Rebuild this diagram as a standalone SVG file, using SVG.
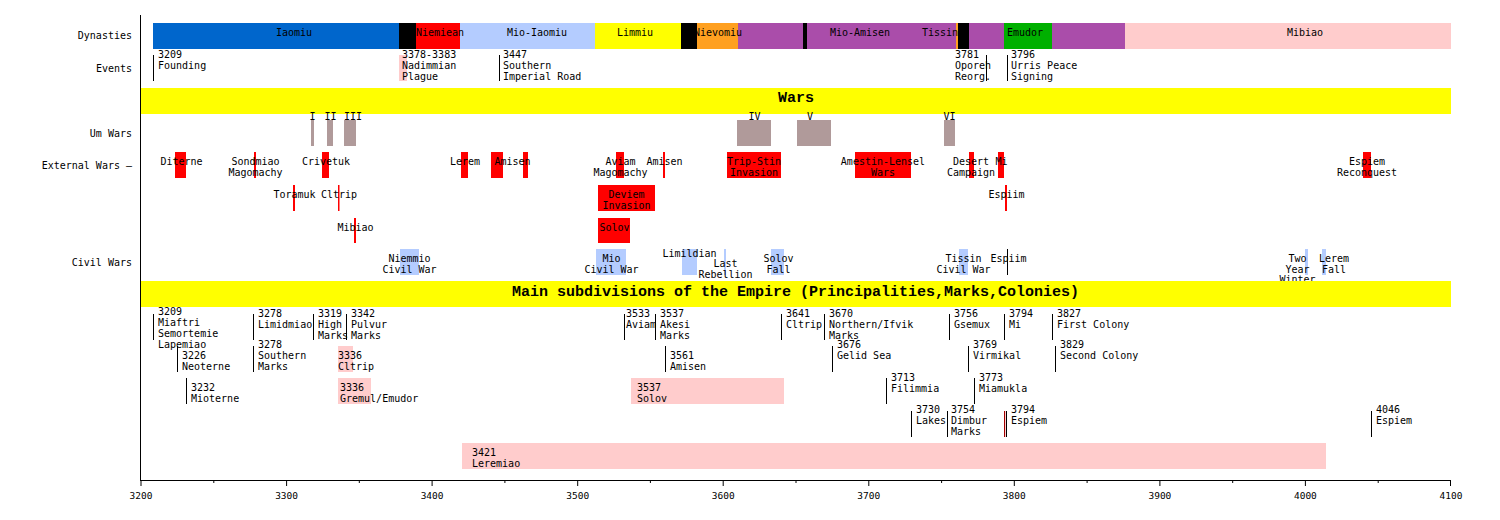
<svg xmlns="http://www.w3.org/2000/svg" width="1500" height="520" viewBox="0 0 1500 520">
<style>
text{font-family:"DejaVu Sans Mono","Liberation Mono",monospace;font-size:10px;fill:#000}
.c{text-anchor:middle}
.r{text-anchor:end}
.h{font-family:"Liberation Mono","DejaVu Sans Mono",monospace;font-size:15px;font-weight:bold;text-anchor:middle}
.ax{font-size:9.5px;text-anchor:middle}
.ln{stroke:#000;stroke-width:1}
.ext{fill:#FF0000}
.civ{fill:#B4CCFF}
.um{fill:#B09A9A}
.pk{fill:#FFCCCC}
</style>
<rect width="1500" height="520" fill="#fff"/>

<g id="labels">
<text class="r" x="132" y="39">Dynasties</text>
<text class="r" x="132" y="72">Events</text>
<text class="r" x="132" y="137">Um Wars</text>
<text class="r" x="132" y="168.5">External Wars –</text>
<text class="r" x="132" y="265.5">Civil Wars</text>
</g>

<g id="dynasties">
<rect x="153" y="23" width="246" height="26" fill="#0066CC"/>
<rect x="399" y="23" width="17" height="26" fill="#000"/>
<rect x="416" y="23" width="44" height="26" fill="#FF0000"/>
<rect x="460" y="23" width="135" height="26" fill="#B4CCFF"/>
<rect x="595" y="23" width="86" height="26" fill="#FFFF00"/>
<rect x="681" y="23" width="16" height="26" fill="#000"/>
<rect x="697" y="23" width="41" height="26" fill="#FFA020"/>
<rect x="738" y="23" width="65" height="26" fill="#AA4DAA"/>
<rect x="803" y="23" width="4" height="26" fill="#000"/>
<rect x="807" y="23" width="149" height="26" fill="#AA4DAA"/>
<rect x="956" y="23" width="2" height="26" fill="#FFA020"/>
<rect x="958" y="23" width="11" height="26" fill="#000"/>
<rect x="969" y="23" width="35" height="26" fill="#AA4DAA"/>
<rect x="1004" y="23" width="48" height="26" fill="#00B000"/>
<rect x="1052" y="23" width="73" height="26" fill="#AA4DAA"/>
<rect x="1125" y="23" width="326" height="26" fill="#FFCCCC"/>
<text class="c" x="294" y="36">Iaomiu</text>
<text class="c" x="440" y="36">Niemiean</text>
<text class="c" x="537" y="36">Mio-Iaomiu</text>
<text class="c" x="635" y="36">Limmiu</text>
<text class="c" x="718" y="36">Nievomiu</text>
<text class="c" x="860" y="36">Mio-Amisen</text>
<text class="c" x="940" y="36">Tissin</text>
<text class="c" x="1025" y="36">Emudor</text>
<text class="c" x="1305" y="36">Mibiao</text>
</g>

<g id="events">
<rect class="pk" x="399" y="55" width="8" height="26"/>
<text x="158" y="57.5">3209<tspan x="158" dy="11">Founding</tspan></text>
<text x="402" y="57.5">3378-3383<tspan x="402" dy="11">Nadimmian</tspan><tspan x="402" dy="11">Plague</tspan></text>
<text x="503" y="57.5">3447<tspan x="503" dy="11">Southern</tspan><tspan x="503" dy="11">Imperial Road</tspan></text>
<text x="955" y="57.5">3781<tspan x="955" dy="11">Oporeh</tspan><tspan x="955" dy="11">Reorg.</tspan></text>
<text x="1011" y="57.5">3796<tspan x="1011" dy="11">Urris Peace</tspan><tspan x="1011" dy="11">Signing</tspan></text>
</g>

<g id="wars-title">
<rect x="141" y="88" width="1310" height="26" fill="#FFFF00"/>
<text class="h" x="796" y="102">Wars</text>
</g>

<g id="um-wars">
<rect class="um" x="311" y="120" width="3" height="26"/>
<rect class="um" x="327" y="120" width="6" height="26"/>
<rect class="um" x="344" y="120" width="12" height="26"/>
<rect class="um" x="737" y="120" width="34" height="26"/>
<rect class="um" x="797" y="120" width="34" height="26"/>
<rect class="um" x="944" y="120" width="11" height="26"/>
<text class="c" x="312.5" y="119.5">I</text>
<text class="c" x="330.5" y="119.5">II</text>
<text class="c" x="353" y="119.5">III</text>
<text class="c" x="754.5" y="119.5">IV</text>
<text class="c" x="810" y="119.5">V</text>
<text class="c" x="949.5" y="119.5">VI</text>
</g>

<g id="external-wars">
<rect class="ext" x="175" y="152" width="11" height="26"/>
<rect class="ext" x="254" y="152" width="2" height="26"/>
<rect class="ext" x="322" y="152" width="7" height="26"/>
<rect class="ext" x="461" y="152" width="7" height="26"/>
<rect class="ext" x="491" y="152" width="12" height="26"/>
<rect class="ext" x="523" y="152" width="5" height="26"/>
<rect class="ext" x="616" y="152" width="8" height="26"/>
<rect class="ext" x="663" y="152" width="2" height="26"/>
<rect class="ext" x="727" y="152" width="54" height="26"/>
<rect class="ext" x="855" y="152" width="56" height="26"/>
<rect class="ext" x="969" y="152" width="5" height="26"/>
<rect class="ext" x="998" y="152" width="6" height="26"/>
<rect class="ext" x="1363" y="152" width="8" height="26"/>
<rect class="ext" x="293" y="185" width="2" height="26"/>
<rect class="ext" x="338" y="185" width="1.5" height="26"/>
<rect class="ext" x="598" y="185" width="57" height="26"/>
<rect class="ext" x="1005" y="185" width="2" height="26"/>
<rect class="ext" x="354" y="218" width="2" height="25"/>
<rect class="ext" x="598" y="218" width="32" height="25"/>
<text class="c" x="181.5" y="165">Diterne</text>
<text class="c" x="255.5" y="165">Sondmiao<tspan x="255.5" dy="11">Magomachy</tspan></text>
<text class="c" x="326" y="165">Crivetuk</text>
<text class="c" x="465" y="165">Lerem</text>
<text class="c" x="512.5" y="165">Amisen</text>
<text class="c" x="620.5" y="165">Aviam<tspan x="620.5" dy="11">Magomachy</tspan></text>
<text class="c" x="664.5" y="165">Amisen</text>
<text class="c" x="754" y="165">Trip-Stin<tspan x="754" dy="11">Invasion</tspan></text>
<text class="c" x="883" y="165">Amestin-Lensel<tspan x="883" dy="11">Wars</tspan></text>
<text class="c" x="971" y="165">Desert<tspan x="971" dy="11">Campaign</tspan></text>
<text class="c" x="1001.5" y="165">Mi</text>
<text class="c" x="1367" y="165">Espiem<tspan x="1367" dy="11">Reconquest</tspan></text>
<text class="c" x="294.5" y="198">Toramuk</text>
<text class="c" x="339" y="198">Cltrip</text>
<text class="c" x="626.5" y="198">Deviem<tspan x="626.5" dy="11">Invasion</tspan></text>
<text class="c" x="1006.5" y="198">Espiim</text>
<text class="c" x="355.5" y="230.5">Mibiao</text>
<text class="c" x="614.5" y="230.5">Solov</text>
</g>

<g id="civil-wars">
<rect class="civ" x="400" y="249" width="19" height="26"/>
<rect class="civ" x="596" y="249" width="30" height="26"/>
<rect class="civ" x="682" y="249" width="15" height="26"/>
<rect class="civ" x="724" y="249" width="2" height="26"/>
<rect class="civ" x="771" y="249" width="13" height="26"/>
<rect class="civ" x="959" y="249" width="9" height="26"/>
<rect class="civ" x="1305" y="249" width="3" height="26"/>
<rect class="civ" x="1322" y="249" width="4" height="26"/>
<text class="c" x="409.5" y="262">Niemmio<tspan x="409.5" dy="10.5">Civil War</tspan></text>
<text class="c" x="611.5" y="262">Mio<tspan x="611.5" dy="10.5">Civil War</tspan></text>
<text class="c" x="689.5" y="256.5">Limildian</text>
<text class="c" x="725.5" y="267">Last<tspan x="725.5" dy="10.5">Rebellion</tspan></text>
<text class="c" x="778.5" y="262">Solov<tspan x="778.5" dy="10.5">Fall</tspan></text>
<text class="c" x="963.5" y="262">Tissin<tspan x="963.5" dy="10.5">Civil War</tspan></text>
<text class="c" x="1008.5" y="262">Espiim</text>
<text class="c" x="1297.5" y="262">Two<tspan x="1297.5" dy="10.5">Year</tspan><tspan x="1297.5" dy="10.5">Winter</tspan></text>
<text class="c" x="1334" y="262">Lerem<tspan x="1334" dy="10.5">Fall</tspan></text>
<line class="ln" x1="1007.5" y1="249" x2="1007.5" y2="275"/>
</g>

<g id="subdivisions-title">
<rect x="141" y="281" width="1310" height="26" fill="#FFFF00"/>
<text class="h" x="795.5" y="296">Main subdivisions of the Empire (Principalities,Marks,Colonies)</text>
</g>

<g id="subdivisions">
<rect class="pk" x="338" y="346" width="15" height="26"/>
<rect class="pk" x="338" y="378" width="33" height="26"/>
<rect class="pk" x="631" y="378" width="153" height="26"/>
<rect class="pk" x="1004" y="411" width="3" height="26"/>
<rect class="pk" x="462" y="443" width="864" height="26"/>
<text x="158" y="315">3209<tspan x="158" dy="11">Miaftri</tspan><tspan x="158" dy="11">Semortemie</tspan><tspan x="158" dy="11">Lapemiao</tspan></text>
<text x="258" y="317">3278<tspan x="258" dy="11">Limidmiao</tspan></text>
<text x="318" y="317">3319<tspan x="318" dy="11">High</tspan><tspan x="318" dy="11">Marks</tspan></text>
<text x="351" y="317">3342<tspan x="351" dy="11">Pulvur</tspan><tspan x="351" dy="11">Marks</tspan></text>
<text x="626" y="317">3533<tspan x="626" dy="11">Aviam</tspan></text>
<text x="660" y="317">3537<tspan x="660" dy="11">Akesi</tspan><tspan x="660" dy="11">Marks</tspan></text>
<text x="786" y="317">3641<tspan x="786" dy="11">Cltrip</tspan></text>
<text x="829" y="317">3670<tspan x="829" dy="11">Northern/Ifvik</tspan><tspan x="829" dy="11">Marks</tspan></text>
<text x="954" y="317">3756<tspan x="954" dy="11">Gsemux</tspan></text>
<text x="1009" y="317">3794<tspan x="1009" dy="11">Mi</tspan></text>
<text x="1057" y="317">3827<tspan x="1057" dy="11">First Colony</tspan></text>
<text x="182" y="359">3226<tspan x="182" dy="11">Neoterne</tspan></text>
<text x="258" y="348">3278<tspan x="258" dy="11">Southern</tspan><tspan x="258" dy="11">Marks</tspan></text>
<text x="338" y="359">3336<tspan x="338" dy="11">Cltrip</tspan></text>
<text x="670" y="359">3561<tspan x="670" dy="11">Amisen</tspan></text>
<text x="837" y="348">3676<tspan x="837" dy="11">Gelid Sea</tspan></text>
<text x="973" y="348">3769<tspan x="973" dy="11">Virmikal</tspan></text>
<text x="1060" y="348">3829<tspan x="1060" dy="11">Second Colony</tspan></text>
<text x="191" y="391">3232<tspan x="191" dy="11">Mioterne</tspan></text>
<text x="340" y="391">3336<tspan x="340" dy="11">Gremul/Emudor</tspan></text>
<text x="637" y="391">3537<tspan x="637" dy="11">Solov</tspan></text>
<text x="891" y="381">3713<tspan x="891" dy="11">Filimmia</tspan></text>
<text x="979" y="381">3773<tspan x="979" dy="11">Miamukla</tspan></text>
<text x="916" y="413">3730<tspan x="916" dy="11">Lakes</tspan></text>
<text x="951" y="413">3754<tspan x="951" dy="11">Dimbur</tspan><tspan x="951" dy="11">Marks</tspan></text>
<text x="1011" y="413">3794<tspan x="1011" dy="11">Espiem</tspan></text>
<text x="1376" y="413">4046<tspan x="1376" dy="11">Espiem</tspan></text>
<text x="472" y="455.5">3421<tspan x="472" dy="11">Leremiao</tspan></text>
</g>

<g id="connectors">
<line class="ln" x1="153.5" y1="55" x2="153.5" y2="81"/>
<line class="ln" x1="499.5" y1="55" x2="499.5" y2="81"/>
<line class="ln" x1="986.5" y1="55" x2="986.5" y2="81"/>
<line class="ln" x1="1007.5" y1="55" x2="1007.5" y2="81"/>
<line class="ln" x1="153.5" y1="314" x2="153.5" y2="340"/>
<line class="ln" x1="253.5" y1="314" x2="253.5" y2="340"/>
<line class="ln" x1="313.5" y1="314" x2="313.5" y2="340"/>
<line class="ln" x1="346.5" y1="314" x2="346.5" y2="340"/>
<line class="ln" x1="624.5" y1="314" x2="624.5" y2="340"/>
<line class="ln" x1="655.5" y1="314" x2="655.5" y2="340"/>
<line class="ln" x1="781.5" y1="314" x2="781.5" y2="340"/>
<line class="ln" x1="824.5" y1="314" x2="824.5" y2="340"/>
<line class="ln" x1="949.5" y1="314" x2="949.5" y2="340"/>
<line class="ln" x1="1004.5" y1="314" x2="1004.5" y2="340"/>
<line class="ln" x1="1052.5" y1="314" x2="1052.5" y2="340"/>
<line class="ln" x1="177.5" y1="346" x2="177.5" y2="372"/>
<line class="ln" x1="253.5" y1="346" x2="253.5" y2="372"/>
<line class="ln" x1="665.5" y1="346" x2="665.5" y2="372"/>
<line class="ln" x1="832.5" y1="346" x2="832.5" y2="372"/>
<line class="ln" x1="968.5" y1="346" x2="968.5" y2="372"/>
<line class="ln" x1="1055.5" y1="346" x2="1055.5" y2="372"/>
<line class="ln" x1="186.5" y1="378" x2="186.5" y2="404"/>
<line class="ln" x1="886.5" y1="378" x2="886.5" y2="404"/>
<line class="ln" x1="974.5" y1="378" x2="974.5" y2="404"/>
<line class="ln" x1="911.5" y1="411" x2="911.5" y2="437"/>
<line class="ln" x1="947.5" y1="411" x2="947.5" y2="437"/>
<line x1="1004.5" y1="411" x2="1004.5" y2="437" stroke="#A00000" stroke-width="1"/>
<line class="ln" x1="1006.5" y1="411" x2="1006.5" y2="437"/>
<line class="ln" x1="1371.5" y1="411" x2="1371.5" y2="437"/>
</g>

<g id="axis">
<line class="ln" x1="140.5" y1="15" x2="140.5" y2="480"/>
<line class="ln" x1="140" y1="480.5" x2="1451" y2="480.5"/>
<path class="ln" fill="none" d="M141,480v6M286.6,480v6M432.1,480v6M577.7,480v6M723.2,480v6M868.8,480v6M1014.3,480v6M1159.9,480v6M1305.4,480v6M1450.5,480v6M213.8,480v3M359.3,480v3M504.9,480v3M650.4,480v3M796,480v3M941.6,480v3M1087.1,480v3M1232.7,480v3M1378.2,480v3"/>
<text class="ax" x="141" y="499">3200</text>
<text class="ax" x="286.6" y="499">3300</text>
<text class="ax" x="432.1" y="499">3400</text>
<text class="ax" x="577.7" y="499">3500</text>
<text class="ax" x="723.2" y="499">3600</text>
<text class="ax" x="868.8" y="499">3700</text>
<text class="ax" x="1014.3" y="499">3800</text>
<text class="ax" x="1159.9" y="499">3900</text>
<text class="ax" x="1305.4" y="499">4000</text>
<text class="ax" x="1451" y="499">4100</text>
</g>
</svg>
